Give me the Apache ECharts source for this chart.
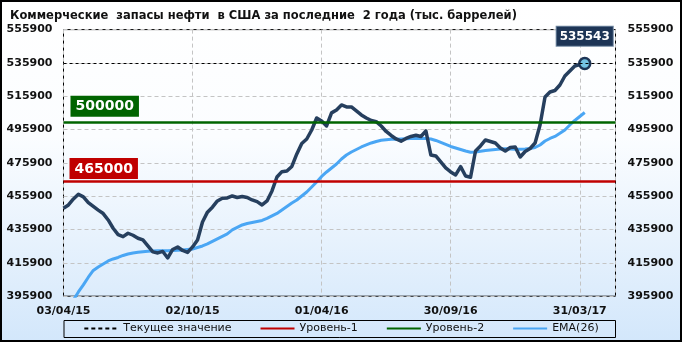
<!DOCTYPE html>
<html>
<head>
<meta charset="utf-8">
<script src="https://cdn.jsdelivr.net/npm/echarts@6/dist/echarts.min.js"></script>
<style>
html,body{margin:0;padding:0;background:#fff;}
#chart{width:682px;height:342px;}
</style>
</head>
<body>
<div id="chart"></div>
<script>
// ---- data (weekly, first week = 03/04/15) ----
const titleText = 'Коммерческие  запасы нефти  в США за последние  2 года (тыс. баррелей)';
const tickLabels = ['03/04/15', '02/10/15', '01/04/16', '30/09/16', '31/03/17'];
const weeksPerTick = 26;
const yTicksMin = 395900;
const yTicksMax = 555900;
const yTickStep = 20000;
const stocks = [
  448680, 450660, 454260, 457080, 455520, 452040, 449760, 447540, 445500, 441660,
  436680, 432900, 431640, 433680, 432480, 430680, 429660, 426060, 422520, 421860,
  422760, 418860, 423960, 425460, 423360, 422160, 425460, 429660, 440460, 446340,
  449340, 453060, 454680, 454860, 456060, 455160, 455760, 455160, 453660, 452640,
  450660, 453060, 459060, 467460, 470640, 471060, 473760, 481260, 487560, 490260,
  495660, 502860, 501060, 498060, 505920, 507660, 510660, 509460, 509460, 507060,
  504660, 502860, 501360, 500640, 498060, 494760, 492360, 490260, 488940, 490560,
  491760, 492480, 491760, 495060, 480660, 480060, 476460, 472860, 470460, 468660,
  473640, 468060, 467280, 483060, 486060, 489660, 488760, 487860, 484860, 483060,
  485160, 485460, 479460, 482760, 484560, 487860, 498660, 515460, 518460, 519360,
  522660, 528060, 531060, 534060, 534960, 535543
];
const ema26 = [
  383000, 388860, 393660, 398460, 402660, 407280, 411360, 413460, 415260, 417060,
  418260, 419160, 420360, 421260, 421860, 422280, 422640, 422940, 423060, 423240,
  423240, 423240, 423360, 423480, 423660, 423960, 424260, 425160, 426060, 427260,
  428760, 430260, 431760, 433260, 435660, 437160, 438660, 439560, 440160, 440760,
  441360, 442560, 444060, 445560, 447660, 449760, 451860, 453660, 456060, 458460,
  461460, 464460, 467760, 470460, 472860, 475260, 478260, 480660, 482460, 483960,
  485460, 486660, 487860, 488760, 489480, 489840, 490080, 490140, 490260, 490380,
  490500, 490560, 490620, 490560, 490260, 489360, 488160, 486960, 485760, 484860,
  483960, 483060, 482280, 482460, 482880, 483360, 483660, 483960, 484260, 484380,
  484260, 484140, 484080, 484260, 484560, 485160, 486660, 489060, 490560, 491760,
  493680, 495660, 498660, 501360, 503760, 506160
];
const currentValue = 535543;
const level1 = 465000;
const level2 = 500000;
const xAxisMaxWeeks = 111.2;

// ---- build ----
const FONT = 'DejaVu Sans';
const stockPts = stocks.map((v, i) => [i, v]);
const lastIdx = stockPts.length - 1;
const stockData = stockPts.map((p, i) => i === lastIdx ? {
  value: p,
  symbol: 'circle',
  symbolSize: 11,
  itemStyle: { color: '#74c3e3', borderColor: '#1d3556', borderWidth: 2.5 },
  label: {
    show: true, position: 'top', distance: 11,
    formatter: String(currentValue),
    backgroundColor: '#1d3556', borderColor: '#6f86a0', borderWidth: 1,
    color: '#ffffff', fontFamily: FONT, fontWeight: 'bold', fontSize: 12,
    padding: [4, 3, 3, 3]
  }
} : { value: p, symbol: 'none' });
const emaPts = ema26.map((v, i) => [i, v]);

const chart = echarts.init(document.getElementById('chart'), null, { renderer: 'canvas' });

const yAxisBase = {
  type: 'value', min: yTicksMin, max: yTicksMax, interval: yTickStep,
  axisLine: { show: false }, axisTick: { show: false },
  axisLabel: { color: '#111', fontFamily: FONT, fontWeight: 'bold', fontSize: 11, formatter: v => String(v) }
};

const option = {
  animation: false,
  backgroundColor: {
    type: 'linear', x: 0, y: 0, x2: 0, y2: 1,
    colorStops: [
      { offset: 0, color: '#ffffff' },
      { offset: 0.4, color: '#fbfdff' },
      { offset: 1, color: '#d3e7fb' }
    ]
  },
  title: {
    text: titleText, left: 5, top: 5,
    textStyle: { fontFamily: FONT, fontWeight: 'bold', fontSize: 11.5, color: '#111' }
  },
  grid: {
    left: 63.5, right: 66.5, top: 29.6, bottom: 45.8,
    show: true, borderColor: '#000', borderWidth: 1, backgroundColor: 'transparent'
  },
  legend: {
    data: ['Текущее значение', 'Уровень-1', 'Уровень-2', 'EMA(26)'],
    left: 'center', top: 323, itemWidth: 34, itemHeight: 10, itemGap: 28,
    itemStyle: { color: 'rgba(0,0,0,0)', borderWidth: 0, borderColor: 'rgba(0,0,0,0)' },
    textStyle: { fontFamily: FONT, fontSize: 11, color: '#111' },
    padding: 0
  },
  xAxis: {
    type: 'value', min: 0, max: xAxisMaxWeeks, interval: weeksPerTick,
    axisLine: { show: false }, axisTick: { show: false },
    axisLabel: {
      color: '#111', fontFamily: FONT, fontWeight: 'bold', fontSize: 11, margin: 9,
      showMaxLabel: false,
      formatter: v => (v % weeksPerTick === 0 && tickLabels[v / weeksPerTick]) ? tickLabels[v / weeksPerTick] : ''
    },
    splitLine: { show: true, lineStyle: { color: '#c4c4c4', type: [4, 3], width: 1 } }
  },
  yAxis: [
    Object.assign({}, yAxisBase, {
      position: 'left',
      axisLabel: Object.assign({}, yAxisBase.axisLabel, { margin: 11 }),
      splitLine: { show: true, lineStyle: { color: '#c4c4c4', type: [4, 3], width: 1 } }
    }),
    Object.assign({}, yAxisBase, {
      position: 'right',
      axisLabel: Object.assign({}, yAxisBase.axisLabel, { margin: 12 }),
      splitLine: { show: false }
    })
  ],
  graphic: [
    { type: 'rect', silent: true, z: 100,
      shape: { x: 64, y: 320.5, width: 551.5, height: 17 },
      style: { fill: 'none', stroke: '#000', lineWidth: 1 } },
    { type: 'rect', silent: true, z: 100,
      shape: { x: 1, y: 1, width: 680, height: 340 },
      style: { fill: 'none', stroke: '#000', lineWidth: 2 } }
  ],
  series: [
    {
      name: 'Текущее значение', type: 'line', data: [], z: 2,
      symbol: 'none', color: '#000',
      lineStyle: { color: '#000', width: 1, type: [4, 3] },
      markLine: {
        silent: true, symbol: ['none', 'none'],
        lineStyle: { color: '#000', width: 1, type: [3, 3] },
        label: { show: false },
        data: [{ yAxis: currentValue }]
      }
    },
    {
      name: 'Уровень-1', type: 'line', data: [], z: 2,
      symbol: 'none', color: '#c00000',
      lineStyle: { color: '#c00000', width: 3 },
      markLine: {
        silent: true, symbol: ['none', 'none'],
        lineStyle: { color: '#c00000', width: 2.5, type: 'solid' },
        label: {
          show: true, position: 'insideStartTop', distance: [6, 2],
          formatter: String(level1),
          backgroundColor: '#c00000', color: '#ffffff',
          fontFamily: FONT, fontWeight: 'bold', fontSize: 14, padding: [4, 5, 3, 5]
        },
        data: [{ yAxis: level1 }]
      }
    },
    {
      name: 'Уровень-2', type: 'line', data: [], z: 2,
      symbol: 'none', color: '#006400',
      lineStyle: { color: '#006400', width: 3 },
      markLine: {
        silent: true, symbol: ['none', 'none'],
        lineStyle: { color: '#006400', width: 2.5, type: 'solid' },
        label: {
          show: true, position: 'insideStartTop', distance: [7, 6],
          formatter: String(level2),
          backgroundColor: '#006400', color: '#ffffff',
          fontFamily: FONT, fontWeight: 'bold', fontSize: 14, padding: [4, 5, 3, 5]
        },
        data: [{ yAxis: level2 }]
      }
    },
    {
      name: 'EMA(26)', type: 'line', data: emaPts, z: 3,
      symbol: 'none', showSymbol: false, clip: true, color: '#4aa6f4',
      lineStyle: { color: '#4aa6f4', width: 3 }
    },
    {
      name: 'Запасы', type: 'line', data: stockData, z: 4,
      showSymbol: true, clip: true, color: '#263f5e',
      lineStyle: { color: '#263f5e', width: 3.5, join: 'round' }
    }
  ]
};
chart.setOption(option);
</script>
</body>
</html>
